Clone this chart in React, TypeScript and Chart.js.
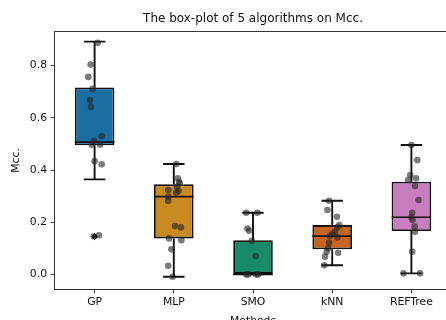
import React, { useEffect, useRef } from "react";
import { Chart, registerables } from "chart.js";

Chart.register(...registerables);

const categories = ["GP", "MLP", "SMO", "kNN", "REFTree"];
const whiskerLow = [0.364, -0.009, 0.0, 0.035, 0.004];
const q1 = [0.495, 0.138, 0.0, 0.096, 0.166];
const median = [0.507, 0.298, 0.0, 0.147, 0.219];
const q3 = [0.716, 0.345, 0.131, 0.189, 0.355];
const whiskerHigh = [0.892, 0.423, 0.236, 0.282, 0.496];
const boxColors = ["#1b6ea2", "#c98a22", "#178a6a", "#c4641f", "#c67fbc"];

const outlierCategory = [0];
const outlierValues = [0.144];

const gpValues = [0.888, 0.804, 0.757, 0.711, 0.668, 0.642, 0.529, 0.511, 0.497, 0.497, 0.434, 0.422, 0.146, 0.15];
const gpJitter = [0.04, -0.05, -0.08, -0.025, -0.06, -0.045, 0.09, -0.01, -0.035, 0.07, 0, 0.09, -0.01, 0.055];
const mlpValues = [0.423, 0.368, 0.355, 0.349, 0.336, 0.323, 0.32, 0.314, 0.298, 0.281, 0.185, 0.18, 0.138, 0.131, 0.096, 0.033, -0.009];
const mlpJitter = [0.03, 0.05, 0.065, 0.075, 0.04, -0.07, 0.06, 0.03, -0.07, -0.07, 0.015, 0.09, -0.06, 0.095, -0.03, -0.07, -0.015];
const smoValues = [0.236, 0.236, 0.176, 0.167, 0.129, 0.07, 0, 0, 0, 0];
const smoJitter = [-0.085, 0.055, -0.07, -0.05, -0.015, 0.035, -0.085, -0.06, 0.04, 0.065];
const knnValues = [0.282, 0.247, 0.221, 0.189, 0.18, 0.163, 0.155, 0.147, 0.142, 0.121, 0.1, 0.087, 0.083, 0.068, 0.035];
const knnJitter = [-0.04, -0.06, 0.06, 0.09, 0.065, 0.035, 0, -0.03, 0.065, -0.04, -0.05, -0.07, 0.075, -0.09, -0.1];
const refValues = [0.496, 0.438, 0.381, 0.368, 0.362, 0.339, 0.285, 0.236, 0.219, 0.208, 0.183, 0.163, 0.087, 0.004, 0.004];
const refJitter = [0, 0.075, -0.015, 0.06, -0.04, 0.045, 0.09, 0.01, 0, 0.015, 0.04, 0.045, 0.01, -0.1, 0.11];

const pointValues = [gpValues, mlpValues, smoValues, knnValues, refValues];
const pointJitter = [gpJitter, mlpJitter, smoJitter, knnJitter, refJitter];

const yTicks = [0, 0.2, 0.4, 0.6, 0.8];
const xTicks = [0, 1, 2, 3, 4];

const FONT = "'DejaVu Sans', sans-serif";
const W = 455;
const H = 336;

export default function App() {
  const ref = useRef<HTMLCanvasElement | null>(null);

  useEffect(() => {
    if (!ref.current) return;
    const boxPlugin = {
      id: "boxExtras",
      afterDatasetDraw(chart: any, args: any) {
        if (args.index !== 0) return;
        const { ctx } = chart;
        const x = chart.scales.x;
        const y = chart.scales.y;
        ctx.save();
        ctx.strokeStyle = "#111";
        ctx.lineWidth = 1.9;
        categories.forEach((_, i) => {
          const cx = x.getPixelForValue(i);
          const capL = x.getPixelForValue(i - 0.135);
          const capR = x.getPixelForValue(i + 0.135);
          const bl = x.getPixelForValue(i - 0.25);
          const br = x.getPixelForValue(i + 0.25);
          ctx.beginPath();
          if (whiskerHigh[i] > q3[i]) {
            ctx.moveTo(cx, y.getPixelForValue(q3[i]));
            ctx.lineTo(cx, y.getPixelForValue(whiskerHigh[i]));
          }
          if (whiskerLow[i] < q1[i]) {
            ctx.moveTo(cx, y.getPixelForValue(q1[i]));
            ctx.lineTo(cx, y.getPixelForValue(whiskerLow[i]));
          }
          ctx.moveTo(capL, y.getPixelForValue(whiskerHigh[i]));
          ctx.lineTo(capR, y.getPixelForValue(whiskerHigh[i]));
          ctx.moveTo(capL, y.getPixelForValue(whiskerLow[i]));
          ctx.lineTo(capR, y.getPixelForValue(whiskerLow[i]));
          ctx.stroke();
          ctx.beginPath();
          ctx.lineWidth = 1.7;
          ctx.moveTo(bl, y.getPixelForValue(median[i]));
          ctx.lineTo(br, y.getPixelForValue(median[i]));
          ctx.stroke();
          ctx.lineWidth = 1.9;
        });
        ctx.restore();
      },
      afterDraw(chart: any) {
        const { ctx, chartArea } = chart;
        ctx.save();
        ctx.strokeStyle = "#333";
        ctx.lineWidth = 1;
        ctx.strokeRect(
          Math.round(chartArea.left) - 0.5,
          Math.round(chartArea.top) - 0.5,
          chartArea.right - chartArea.left,
          chartArea.bottom - chartArea.top + 1
        );
        ctx.restore();
      },
    };

    const scatterData: { x: number; y: number }[] = [];
    pointValues.forEach((vals, i) => {
      vals.forEach((v, j) => scatterData.push({ x: i + pointJitter[i][j], y: v }));
    });

    const chart = new Chart(ref.current, {
      type: "scatter",
      data: {
        datasets: [
          {
            type: "bar",
            data: categories.map((_, i) => ({ x: i, y: [q1[i], q3[i]] })) as any,
            backgroundColor: boxColors,
            borderColor: "#111",
            borderWidth: 1.8,
            borderSkipped: false,
            barPercentage: 0.5,
            categoryPercentage: 1,
            order: 3,
          } as any,
          {
            type: "scatter",
            data: outlierValues.map((v, k) => ({ x: outlierCategory[k], y: v })),
            pointStyle: "rectRot",
            radius: 3.5,
            backgroundColor: "#222",
            borderWidth: 0,
            order: 2,
          } as any,
          {
            type: "scatter",
            data: scatterData,
            pointRadius: 3.3,
            backgroundColor: "rgba(35,35,35,0.6)",
            borderWidth: 0,
            order: 1,
          } as any,
        ],
      },
      options: {
        animation: false,
        responsive: false,
        devicePixelRatio: 1,
        layout: { padding: 0 },
        plugins: {
          legend: { display: false },
          tooltip: { enabled: false },
          title: {
            display: true,
            text: "The box-plot of 5 algorithms on Mcc.",
            fullSize: false,
            color: "#111",
            font: { family: FONT, size: 12, weight: "normal" },
            padding: { top: 12, bottom: 5.6 },
          },
        },
        scales: {
          x: {
            type: "linear",
            min: -0.5,
            max: 4.5,
            offset: false,
            afterFit: (s: any) => {
              s.height = H - 289;
            },
            afterBuildTicks: (s: any) => {
              s.ticks = xTicks.map((v) => ({ value: v }));
            },
            grid: { display: true, drawOnChartArea: false, tickLength: 4, tickColor: "#333", offset: false },
            border: { display: false },
            ticks: {
              autoSkip: false,
              maxRotation: 0,
              padding: 3,
              color: "#111",
              font: { family: FONT, size: 10.8 },
              callback: (v: any) => categories[Number(v)] ?? "",
            },
            title: {
              display: true,
              text: "Methods",
              color: "#111",
              font: { family: FONT, size: 10.8 },
              padding: { top: 4, bottom: 8 },
            },
          },
          y: {
            type: "linear",
            min: -0.056,
            max: 0.929,
            afterFit: (s: any) => {
              s.width = 55;
            },
            afterBuildTicks: (s: any) => {
              s.ticks = yTicks.map((v) => ({ value: v }));
            },
            grid: { display: true, drawOnChartArea: false, tickLength: 4, tickColor: "#333" },
            border: { display: false },
            ticks: {
              padding: 4,
              color: "#111",
              font: { family: FONT, size: 10.8 },
              callback: (v: any) => Number(v).toFixed(1),
            },
            title: {
              display: true,
              text: "Mcc.",
              color: "#111",
              font: { family: FONT, size: 10.8 },
              padding: { top: 10, bottom: 0 },
            },
          },
        },
      } as any,
      plugins: [boxPlugin],
    });
    return () => chart.destroy();
  }, []);

  return (
    <div style={{ position: "absolute", left: 0, top: 0, width: 446, height: 320, overflow: "hidden", background: "#fff" }}>
      <canvas ref={ref} width={W} height={H} style={{ display: "block", width: W, height: H }} />
    </div>
  );
}
